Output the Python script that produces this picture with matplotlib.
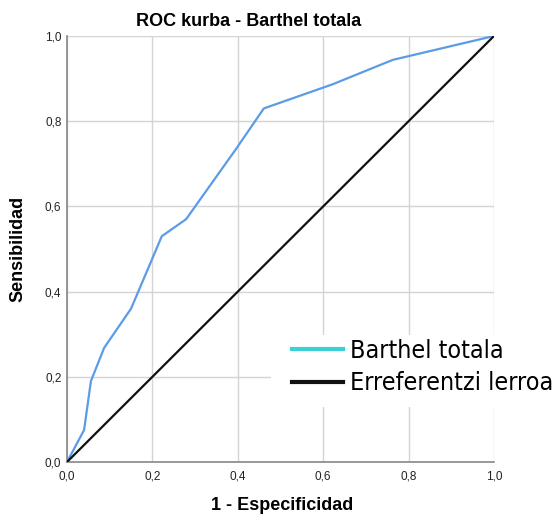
import matplotlib.pyplot as plt
from matplotlib.lines import Line2D
from matplotlib.patches import Rectangle

# ROC coordinates for Barthel totala
fpr = [0.0, 0.040, 0.056, 0.087, 0.150, 0.222, 0.279, 0.396, 0.461, 0.623, 0.763, 1.0]
tpr = [0.0, 0.075, 0.190, 0.268, 0.360, 0.530, 0.570, 0.735, 0.830, 0.887, 0.944, 1.0]
ref = [0.0, 1.0]

ticks = [0.0, 0.2, 0.4, 0.6, 0.8, 1.0]
tick_labels = ["0,0", "0,2", "0,4", "0,6", "0,8", "1,0"]
series_names = ["Barthel totala", "Erreferentzi lerroa"]

plt.rcParams['font.family'] = ['Liberation Sans', 'DejaVu Sans']

W, H = 553, 516
fig = plt.figure(figsize=(W / 100, H / 100), dpi=100)
ax = fig.add_axes([67 / W, 1 - 462 / H, 427 / W, 426 / H])

ax.plot(fpr, tpr, color='#5b9be8', linewidth=1.6, zorder=3)
ax.plot(ref, ref, color='#111111', linewidth=1.6, zorder=3)

ax.set_xlim(0, 1)
ax.set_ylim(0, 1)
ax.set_xticks(ticks, tick_labels, fontsize=8.5)
ax.set_yticks(ticks, tick_labels, fontsize=8.5)
ax.tick_params(axis='x', length=0, pad=6, colors='#222222')
ax.tick_params(axis='y', length=0, pad=4, colors='#222222')
ax.grid(True, color='#d4d4d4', linewidth=1.0)
ax.set_axisbelow(True)

for side in ['top', 'right']:
    ax.spines[side].set_visible(False)
for side in ['left', 'bottom']:
    ax.spines[side].set_color('#888888')
    ax.spines[side].set_linewidth(1.2)

fig.text(249 / W, 1 - 22 / H, "ROC kurba - Barthel totala",
         ha='center', va='center', fontsize=13, fontweight='bold')
fig.text(282 / W, 1 - 506 / H, "1 - Especificidad",
         ha='center', va='center', fontsize=13, fontweight='bold')
fig.text(18 / W, 1 - 249 / H, "Sensibilidad", rotation=90,
         ha='center', va='center', fontsize=13, fontweight='bold')

# white block behind the legend, reaching past the plot edge
fig.add_artist(Rectangle((271 / W, 1 - 407 / H), (W - 271) / W, 72 / H,
                         transform=fig.transFigure, facecolor='white',
                         edgecolor='none', zorder=2))

handles = [Line2D([], [], color='#3ccfd6', linewidth=3),
           Line2D([], [], color='#111111', linewidth=3)]
leg = fig.legend(handles, series_names, loc='upper left',
                 bbox_to_anchor=(292 / W, 1 - 339 / H),
                 prop={'family': 'DejaVu Sans', 'stretch': 'condensed', 'size': 18},
                 frameon=False, borderpad=0, borderaxespad=0, handlelength=2.05,
                 handletextpad=0.25, labelspacing=0.33)
leg.set_zorder(3)

fig.savefig('out.png', dpi=100)
